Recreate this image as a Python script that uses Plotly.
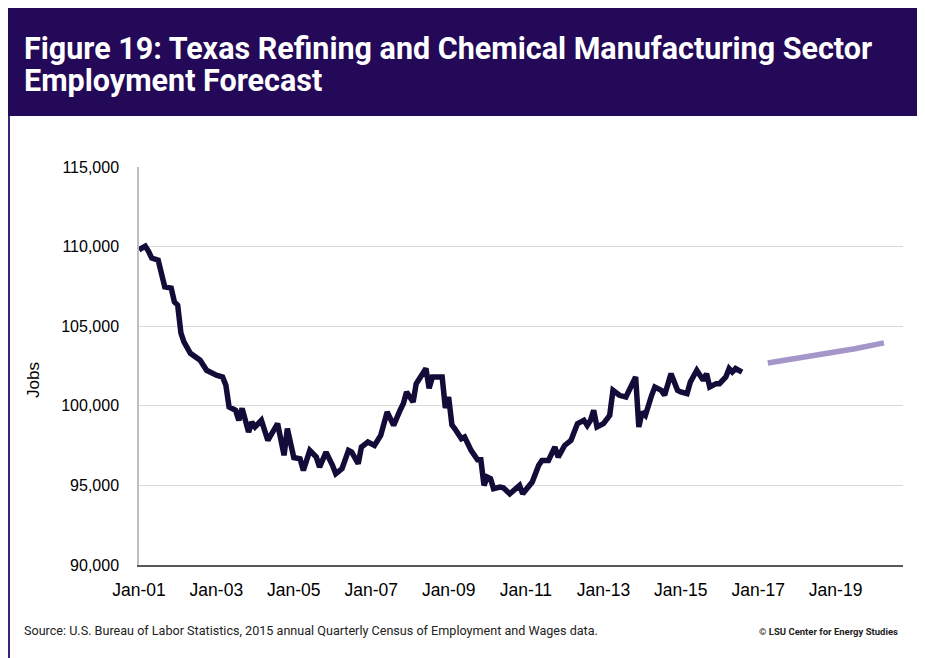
import plotly.graph_objects as go

# actual employment (month, jobs)
actual_months = [
    '2001-01', '2001-03', '2001-04', '2001-05', '2001-07', '2001-08', '2001-09', '2001-11', '2001-12',
    '2002-01', '2002-02', '2002-03', '2002-05', '2002-08', '2002-10', '2003-01', '2003-03', '2003-04',
    '2003-05', '2003-07', '2003-08', '2003-09', '2003-10', '2003-11', '2003-12', '2004-01', '2004-03',
    '2004-05', '2004-08', '2004-10', '2004-11', '2005-01', '2005-03', '2005-04', '2005-06', '2005-08',
    '2005-09', '2005-11', '2006-01', '2006-02', '2006-04', '2006-06', '2006-07', '2006-09', '2006-10',
    '2006-12', '2007-02', '2007-04', '2007-06', '2007-07', '2007-08', '2007-10', '2007-11', '2007-12',
    '2008-02', '2008-03', '2008-04', '2008-06', '2008-07', '2008-08', '2008-11', '2008-12', '2009-01',
    '2009-02', '2009-03', '2009-05', '2009-06', '2009-08', '2009-10', '2009-11', '2009-12', '2010-01',
    '2010-02', '2010-03', '2010-05', '2010-06', '2010-08', '2010-11', '2010-12', '2011-02', '2011-03',
    '2011-05', '2011-06', '2011-08', '2011-10', '2011-11', '2012-01', '2012-03', '2012-05', '2012-07',
    '2012-08', '2012-09', '2012-10', '2012-11', '2013-01', '2013-03', '2013-04', '2013-06', '2013-08',
    '2013-11', '2013-12', '2014-01', '2014-02', '2014-04', '2014-05', '2014-07', '2014-08', '2014-10',
    '2014-12', '2015-01', '2015-03', '2015-04', '2015-06', '2015-07', '2015-08', '2015-09', '2015-10',
    '2015-12', '2016-01', '2016-03', '2016-04', '2016-05', '2016-06', '2016-08',
]
actual_jobs = [
    109800, 110030, 109700, 109280, 109150, 108330, 107470, 107390, 106530,
    106320, 104560, 104010, 103300, 102860, 102230, 101920, 101810, 101290,
    99930, 99720, 99090, 99840, 98980, 98350, 98980, 98670, 99090,
    97830, 98880, 96890, 98570, 96750, 96670, 95940, 97200, 96780,
    96150, 97090, 96260, 95730, 96050, 97200, 97090, 96360, 97410,
    97720, 97510, 98140, 99610, 99090, 98770, 99720, 100140, 100870,
    100240, 101390, 101710, 102340, 101100, 101810, 101810, 99870, 100550,
    98800, 98560, 97930, 98040, 97200, 96610, 96610, 95000, 95520,
    95420, 94790, 94890, 94850, 94470, 95000, 94470, 95000, 95210,
    96260, 96570, 96570, 97410, 96780, 97510, 97830, 98880, 99090,
    98770, 99090, 99720, 98670, 98880, 99400, 100970, 100660, 100550,
    101810, 98670, 99610, 99400, 100660, 101180, 100970, 100660, 102020,
    100970, 100870, 100760, 101490, 102230, 101920, 101600, 102020, 101180,
    101390, 101390, 101810, 102340, 102120, 102340, 102120,
]

# forecast
forecast_months = ['2017-04', '2018-01', '2018-10', '2019-07', '2020-04']
forecast_jobs = [102690, 102980, 103280, 103580, 103950]

y_ticks = [90000, 95000, 100000, 105000, 110000, 115000]

fig = go.Figure()
fig.add_trace(go.Scatter(x=actual_months, y=actual_jobs, mode='lines', name='Actual',
                         line=dict(color='#140b38', width=5.5)))
fig.add_trace(go.Scatter(x=forecast_months, y=forecast_jobs, mode='lines', name='Forecast',
                         line=dict(color='#a596c9', width=5.5)))

# paper coords from screen pixels: plot area spans x 139..903, y 167..565
# (the page has an 8px body margin, so the figure itself is 8px smaller)
def px(x):
    return (x - 139) / 764.0

def py(y):
    return (565 - y) / 398.0

purple = '#230957'
fig.add_shape(type='rect', xref='paper', yref='paper', x0=px(8), x1=px(926), y0=py(116), y1=py(7),
              fillcolor=purple, line_width=0, layer='below')
fig.add_shape(type='line', xref='paper', yref='paper', x0=px(9), x1=px(9), y0=py(116), y1=py(660),
              line=dict(color='#3d2470', width=2))

title_font = dict(family='Roboto', size=30.5, color='white')
fig.add_annotation(xref='paper', yref='paper', x=px(22), y=py(48), xanchor='left', yanchor='middle',
                   text='<b>Figure 19: Texas Refining and Chemical Manufacturing Sector</b>',
                   showarrow=False, font=title_font)
fig.add_annotation(xref='paper', yref='paper', x=px(22), y=py(80), xanchor='left', yanchor='middle',
                   text='<b>Employment Forecast</b>',
                   showarrow=False, font=title_font)
fig.add_annotation(xref='paper', yref='paper', x=px(33), y=py(380), xanchor='center', yanchor='middle',
                   textangle=-90, text='Jobs', showarrow=False,
                   font=dict(family='Liberation Sans', size=17, color='#000'))
fig.add_annotation(xref='paper', yref='paper', x=px(22), y=py(630), xanchor='left', yanchor='middle',
                   text='Source: U.S. Bureau of Labor Statistics, 2015 annual Quarterly Census of Employment and Wages data.',
                   showarrow=False, font=dict(family='Roboto', size=12.6, color='#222'))
fig.add_annotation(xref='paper', yref='paper', x=px(900), y=py(631), xanchor='right', yanchor='middle',
                   text='<b>© LSU Center for Energy Studies</b>',
                   showarrow=False, font=dict(family='Roboto', size=9.5, color='#222'))

fig.update_layout(
    width=917, height=650,
    margin=dict(l=131, r=22, t=159, b=93),
    paper_bgcolor='white', plot_bgcolor='white',
    showlegend=False,
    font=dict(family='Liberation Sans', size=17, color='#000'),
)
fig.update_xaxes(type='date', range=['2001-01-01', '2020-09-28'], tick0='2001-01-01', dtick='M24',
                 tickformat='%b-%y', showgrid=False, showline=True, linecolor='#595959', linewidth=1.5,
                 ticks='', ticklabelstandoff=8, tickfont=dict(size=17.5))
fig.update_yaxes(range=[90000, 115000], tickvals=y_ticks, tickformat=',', showgrid=True,
                 gridcolor='#d9d9d9', gridwidth=1, showline=True, linecolor='#bfbfbf', linewidth=1.5,
                 zeroline=False, ticks='', ticklabelstandoff=15, tickfont=dict(size=16))

fig.write_html('out.html')
